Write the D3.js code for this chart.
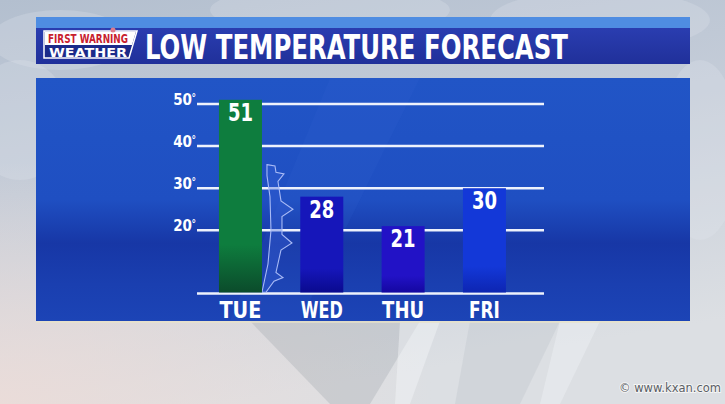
<!DOCTYPE html>
<html><head><meta charset="utf-8">
<script src="https://cdn.jsdelivr.net/npm/d3@7"></script>
<style>html,body{margin:0;padding:0;overflow:hidden;background:#ccd3dc}</style>
</head><body>
<svg id="c" width="725" height="404"></svg>
<script>
const days = ["TUE","WED","THU","FRI"];
const lows = [51,28,21,30];
const tickValues = [20,30,40,50];
const tickLabels = ["20","30","40","50"];
const titleText = "LOW TEMPERATURE FORECAST";
const logoTop = "FIRST WARNING";
const logoBottom = "WEATHER";
const credit = "© www.kxan.com";
const barColors = [["#0e7d3e","#0b4b2b"],["#1616ba","#0a0a8e"],["#2212c6","#1407a0"],["#1338d8","#0d25b2"]];
// cold front outline, [offset px, degrees]
const front = [[5,35.6],[13,35.3],[14,33.8],[22,33.4],[16,31.6],[19,27],[31,25],[20,23.3],[20,19],[30,17],[19,15.3],[14,10],[21,8.8],[12,7.9],[4,5.3],[0,5.3],[6,12],[9,20],[8,28],[5,33]];

const F = "'DejaVu Sans Condensed','Liberation Sans Narrow','Roboto Condensed',sans-serif";
const svg = d3.select("#c");
const defs = svg.append("defs");

// background
const bg = defs.append("linearGradient").attr("id","bg").attr("x1",0).attr("y1",0).attr("x2",0.3).attr("y2",1);
bg.append("stop").attr("offset","0%").attr("stop-color","#b3bfcf");
bg.append("stop").attr("offset","45%").attr("stop-color","#c4ccd8");
bg.append("stop").attr("offset","100%").attr("stop-color","#dcdfe3");
svg.append("rect").attr("width",725).attr("height",404).attr("fill","url(#bg)");
const pink = defs.append("radialGradient").attr("id","pk").attr("cx",0).attr("cy",1).attr("r",0.6);
pink.append("stop").attr("offset","0%").attr("stop-color","#ecdcd8").attr("stop-opacity",0.9);
pink.append("stop").attr("offset","100%").attr("stop-color","#ecdcd8").attr("stop-opacity",0);
svg.append("rect").attr("width",725).attr("height",404).attr("fill","url(#pk)");
// clouds
[[60,40,70,30],[20,120,50,60],[330,10,120,25],[600,20,110,30],[700,150,40,90]].forEach(c=>{
  svg.append("ellipse").attr("cx",c[0]).attr("cy",c[1]).attr("rx",c[2]).attr("ry",c[3]).attr("fill","#e4e8ee").attr("opacity",0.25);
});
// glass shards below panel
svg.append("path").attr("d","M250,321 L420,321 L370,404 L330,404 Z").attr("fill","#9aa2aa").attr("opacity",0.3);
svg.append("path").attr("d","M400,321 L440,321 L410,404 L395,404 Z").attr("fill","#f4f6f8").attr("opacity",0.45);
svg.append("path").attr("d","M470,321 L560,321 L520,404 L455,404 Z").attr("fill","#b8bfc6").attr("opacity",0.3);
svg.append("path").attr("d","M560,321 L600,321 L560,404 L540,404 Z").attr("fill","#f4f6f8").attr("opacity",0.35);

// title bar
svg.append("rect").attr("x",36).attr("y",17).attr("width",654).attr("height",12).attr("fill","#4f8de2");
const tb = defs.append("linearGradient").attr("id","tb").attr("x1",0).attr("y1",0).attr("x2",0).attr("y2",1);
tb.append("stop").attr("offset","0%").attr("stop-color","#2a3db0");
tb.append("stop").attr("offset","100%").attr("stop-color","#20309a");
svg.append("rect").attr("x",36).attr("y",28).attr("width",654).attr("height",36).attr("fill","url(#tb)");
svg.append("text").attr("x",145).attr("y",59).attr("fill","#fff").attr("font-family",F).attr("font-weight","bold")
  .attr("font-size",34).attr("textLength",423).attr("lengthAdjust","spacingAndGlyphs").text(titleText);

// logo
const lg = svg.append("g");
lg.append("path").attr("d","M44,31 L137,31 L129,58 L44,58 Z").attr("fill","#1b2a8a").attr("stroke","#fff").attr("stroke-width",1.5);
lg.append("path").attr("d","M45,31.5 L136,31.5 L132,45 L45,45 Z").attr("fill","#fff");
lg.append("text").attr("x",88).attr("y",42.5).attr("text-anchor","middle").attr("fill","#c8202e").attr("font-family",F)
  .attr("font-weight","bold").attr("font-size",11.5).attr("textLength",80).attr("lengthAdjust","spacingAndGlyphs").text(logoTop);
lg.append("text").attr("x",88).attr("y",57).attr("text-anchor","middle").attr("fill","#fff").attr("font-family",F)
  .attr("font-weight","bold").attr("font-size",12.5).attr("textLength",78).attr("lengthAdjust","spacingAndGlyphs").text(logoBottom);
lg.append("circle").attr("cx",113).attr("cy",30).attr("r",2.5).attr("fill","#e07a8a");

// panel
const pg = defs.append("linearGradient").attr("id","pg").attr("x1",0).attr("y1",0).attr("x2",0).attr("y2",1);
pg.append("stop").attr("offset","0%").attr("stop-color","#2155c6");
pg.append("stop").attr("offset","50%").attr("stop-color","#1f4fc2");
pg.append("stop").attr("offset","68%").attr("stop-color","#1737a6");
pg.append("stop").attr("offset","85%").attr("stop-color","#1a3fb0");
pg.append("stop").attr("offset","100%").attr("stop-color","#1c44b6");
svg.append("rect").attr("x",36).attr("y",78).attr("width",654).attr("height",243).attr("fill","url(#pg)");
svg.append("path").attr("d","M330,78 L420,78 L300,321 L230,321 Z").attr("fill","#3a6ad8").attr("opacity",0.12);
svg.append("rect").attr("x",36).attr("y",321).attr("width",654).attr("height",2).attr("fill","#e8e2c8").attr("opacity",0.7);

// scales
const x = d3.scaleBand().domain(days).range([199.8,525.1]).paddingInner(0.471).paddingOuter(0.2355);
const y = d3.scaleLinear().domain([5,50]).range([293.5,104]);

// grid
const gx0 = 197, gx1 = 544;
svg.append("g").selectAll("line").data(tickValues).join("line")
  .attr("x1",gx0).attr("x2",gx1).attr("y1",d=>y(d)).attr("y2",d=>y(d))
  .attr("stroke","#eef2fc").attr("stroke-width",2.5);
svg.append("line").attr("x1",gx0).attr("x2",gx1).attr("y1",y(5)).attr("y2",y(5)).attr("stroke","#eef2fc").attr("stroke-width",2.5);
svg.append("g").selectAll("text").data(tickValues).join("text")
  .attr("x",192).attr("y",d=>y(d)+1).attr("text-anchor","end").attr("fill","#fff")
  .attr("font-family",F).attr("font-weight","bold").attr("font-size",15)
  .text((d,i)=>tickLabels[i]);
svg.append("g").selectAll("text").data(tickValues).join("text")
  .attr("x",191.5).attr("y",d=>y(d)-3.5).attr("fill","#fff")
  .attr("font-family",F).attr("font-weight","bold").attr("font-size",10).text("°");

// cold front
const fx0 = x("TUE") + x.bandwidth();
svg.append("path").datum(front)
  .attr("d", d3.line().x(d=>fx0+d[0]).y(d=>y(d[1])).curve(d3.curveLinearClosed))
  .attr("fill","#3a62d8").attr("fill-opacity",0.35).attr("stroke","#a8baf6").attr("stroke-width",1.1);

// bars
days.forEach((d,i)=>{
  const g = defs.append("linearGradient").attr("id","b"+i).attr("x1",0).attr("y1",0).attr("x2",0).attr("y2",1);
  g.append("stop").attr("offset","0%").attr("stop-color",barColors[i][0]);
  g.append("stop").attr("offset","75%").attr("stop-color",barColors[i][0]);
  g.append("stop").attr("offset","100%").attr("stop-color",barColors[i][1]);
});
svg.append("g").selectAll("rect").data(lows).join("rect")
  .attr("x",(d,i)=>x(days[i])).attr("width",x.bandwidth())
  .attr("y",d=>y(d)).attr("height",d=>y(5)-y(d)-1)
  .attr("fill",(d,i)=>`url(#b${i})`);
svg.append("g").selectAll("text").data(lows).join("text")
  .attr("x",(d,i)=>x(days[i])+x.bandwidth()/2).attr("y",d=>y(d)+21)
  .attr("text-anchor","middle").attr("fill","#fff").attr("font-family",F).attr("font-weight","bold")
  .attr("font-size",24).attr("textLength",25).attr("lengthAdjust","spacingAndGlyphs").text(d=>d);

// category labels
svg.append("g").selectAll("text").data(days).join("text")
  .attr("x",d=>x(d)+x.bandwidth()/2).attr("y",318).attr("text-anchor","middle")
  .attr("fill","#fff").attr("font-family",F).attr("font-weight","bold").attr("font-size",23)
  .attr("textLength",d=>d==="FRI"?31:42).attr("lengthAdjust","spacingAndGlyphs").text(d=>d);

// credit
svg.append("text").attr("x",721).attr("y",392).attr("text-anchor","end").attr("fill","#5a5f66")
  .attr("stroke","#f4f4f4").attr("stroke-width",2).attr("paint-order","stroke")
  .attr("font-family","'DejaVu Sans',sans-serif").attr("font-size",11.5).text(credit);
</script>
</body></html>
